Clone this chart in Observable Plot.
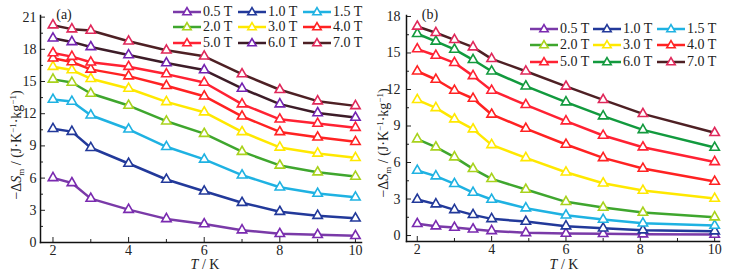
<!DOCTYPE html>
<html><head><meta charset="utf-8">
<script src="https://cdn.jsdelivr.net/npm/d3@7"></script>
<script src="https://cdn.jsdelivr.net/npm/@observablehq/plot@0.6"></script>
<style>
body{margin:0;background:#fff;}
#wrap{position:relative;width:742px;height:278px;overflow:hidden;font-family:"Liberation Serif","DejaVu Serif",serif;color:#222;}
.panel{position:absolute;top:0;}
.ylab{position:absolute;white-space:nowrap;font-size:14px;transform:translate(-50%,-50%) rotate(-90deg);}
.xlab{position:absolute;white-space:nowrap;font-size:14px;transform:translate(-50%,-50%);}
.tag{position:absolute;font-size:14px;transform:translate(-50%,-50%);}
.leg{position:absolute;display:flex;align-items:center;font-size:14px;white-space:nowrap;transform:translateY(-50%);}
.leg svg{margin-right:2px;}
sub{font-size:9px;vertical-align:-3px;}
sup{font-size:9px;vertical-align:5px;}
</style>
</head><body>
<div id="wrap"></div>
<script>
// ---------- data ----------
const fields = ["0.5 T","1.0 T","1.5 T","2.0 T","3.0 T","4.0 T","5.0 T","6.0 T","7.0 T"];

// panel (a)
const tA = [2, 2.5, 3, 4, 5, 6, 7, 8, 9, 10];
const a05 = [6.02, 5.55, 4.09, 3.06, 2.2, 1.72, 1.15, 0.81, 0.72, 0.62];
const a10 = [10.6, 10.33, 8.83, 7.36, 5.87, 4.77, 3.71, 2.87, 2.5, 2.25];
const a15 = [13.32, 13.14, 11.86, 10.55, 8.92, 7.74, 6.27, 5.15, 4.56, 4.21];
const a20 = [15.2, 14.91, 13.88, 12.76, 11.3, 10.14, 8.46, 7.18, 6.55, 6.15];
const a30 = [16.38, 16.07, 15.26, 14.35, 13.1, 12.14, 10.3, 8.86, 8.3, 7.89];
const a40 = [17.16, 16.82, 16.13, 15.5, 14.6, 13.63, 11.76, 10.3, 9.8, 9.39];
const a50 = [17.66, 17.32, 16.79, 16.38, 15.69, 14.91, 12.89, 11.48, 11.08, 10.7];
const a60 = [19.03, 18.69, 18.22, 17.47, 16.72, 16.07, 14.35, 12.89, 12.07, 11.64];
const a70 = [20.25, 19.88, 19.75, 18.75, 17.91, 17.35, 15.69, 14.23, 13.17, 12.73];

// panel (b)
const tB = [2, 2.5, 3, 3.5, 4, 4.92, 6, 7, 8.07, 10];
const b05 = [0.96, 0.77, 0.66, 0.52, 0.38, 0.22, 0.16, 0.14, 0.11, 0.08];
const b10 = [2.96, 2.58, 2.11, 1.7, 1.37, 1.15, 0.77, 0.6, 0.44, 0.36];
const b15 = [5.34, 4.88, 4.25, 3.53, 2.96, 2.25, 1.67, 1.32, 1.01, 0.82];
const b20 = [7.92, 7.26, 6.44, 5.48, 4.66, 3.78, 2.77, 2.3, 1.89, 1.51];
const b30 = [11.15, 10.49, 9.56, 8.74, 7.45, 6.38, 5.2, 4.3, 3.7, 3.04];
const b40 = [13.5, 12.82, 11.92, 11.26, 9.95, 8.79, 7.48, 6.38, 5.51, 4.44];
const b50 = [15.32, 14.79, 14.19, 13.12, 11.92, 10.74, 9.4, 8.22, 7.26, 6.05];
const b60 = [16.58, 15.95, 15.29, 14.44, 13.5, 12.27, 10.96, 9.81, 8.68, 7.23];
const b70 = [17.18, 16.66, 16.08, 15.48, 14.52, 13.5, 12.25, 11.15, 10.0, 8.44];

// colours (line, marker)
const lineA = ["#7a3aa8","#22399a","#1fb2e2","#3fa62e","#ffe800","#ff2222","#ff2233","#3d1c28","#4e2024"];
const markA = ["#7a2ab0","#22399a","#1fb2e2","#a8d21c","#ffe800","#ff2222","#ff2233","#7322b0","#e0285a"];
const lineB = ["#7a3aa8","#22399a","#1fb2e2","#3fa62e","#ffe800","#ff2222","#ff2233","#129a3e","#4e2024"];
const markB = ["#7a2ab0","#22399a","#1fb2e2","#a8d21c","#ffe800","#ff2222","#ff2233","#129a3e","#e0285a"];

const ticksA = [0, 3, 6, 9, 12, 15, 18, 21];
const ticksB = [0, 3, 6, 9, 12, 15, 18];
const ticksX = [2, 4, 6, 8, 10];
const minorX = [3, 5, 7, 9];

// ---------- build ----------
function tidy(ts, series, lines, marks) {
  const rows = [];
  series.forEach((vals, s) => vals.forEach((v, i) => rows.push({field: fields[s], T: ts[i], v, line: lines[s], mark: marks[s]})));
  return rows;
}
const rowsA = tidy(tA, [a05,a10,a15,a20,a30,a40,a50,a60,a70], lineA, markA);
const rowsB = tidy(tB, [b05,b10,b15,b20,b30,b40,b50,b60,b70], lineB, markB);

function panel(rows, opts) {
  const minorY = opts.yticks.slice(0, -1).map(d => d + 1.5).filter(d => d < opts.ydom[1]);
  return Plot.plot({
    width: 371, height: 278,
    marginLeft: opts.ml, marginRight: opts.mr, marginTop: 15, marginBottom: opts.mb,
    x: {domain: opts.xdom},
    y: {domain: opts.ydom},
    color: {type: "identity"},
    style: {fontFamily: '"Liberation Serif", serif', fontSize: "14px", background: "transparent", color: "#222"},
    marks: [
      Plot.axisX(ticksX, {tickSize: 0, tickPadding: 3, label: null, fill: "#222"}),
      Plot.axisX(ticksX, {tickSize: -5, fill: "none", label: null}),
      Plot.axisX(minorX, {tickSize: -3, fill: "none", label: null}),
      Plot.axisY(opts.yticks, {tickSize: 0, tickPadding: opts.yp, label: null, fill: "#222"}),
      Plot.axisY(opts.yticks, {tickSize: -5, fill: "none", label: null}),
      Plot.axisY(minorY, {tickSize: -3, fill: "none", label: null}),
      Plot.frame({anchor: "left", stroke: "#111", strokeWidth: 1.5}),
      Plot.frame({anchor: "bottom", stroke: "#111", strokeWidth: 1.5}),
      Plot.line(rows, {x: "T", y: "v", z: "field", stroke: "line", strokeWidth: 2.5}),
      Plot.dot(rows, {x: "T", y: "v", symbol: "triangle", r: 3.5, stroke: "mark", fill: "white", strokeWidth: 1.6})
    ]
  });
}

const wrap = document.getElementById("wrap");
const pa = panel(rowsA, {ml: 40, mr: 10, mb: 36, xdom: [1.67, 10.16], ydom: [0, 21.15], yticks: ticksA, yp: 4});
pa.classList.add("panel"); pa.style.left = "0px";
wrap.appendChild(pa);
const pb = panel(rowsB, {ml: 35, mr: 23, mb: 37, xdom: [1.71, 10.13], ydom: [-0.49, 18.08], yticks: ticksB, yp: 6});
pb.classList.add("panel"); pb.style.left = "371px";
wrap.appendChild(pb);

// labels
const ylabHTML = '&minus;&Delta;<i>S</i><sub>m</sub> / (J&middot;K<sup>&minus;1</sup>&middot;kg<sup>&minus;1</sup>)';
const xlabHTML = '<i>T</i> / K';
function add(cls, html, x, y) {
  const d = document.createElement("div");
  d.className = cls; d.innerHTML = html;
  d.style.left = x + "px"; d.style.top = y + "px";
  wrap.appendChild(d);
}
add("ylab", ylabHTML, 17, 145);
add("ylab", ylabHTML, 384, 143);
add("xlab", xlabHTML, 205, 265);
add("xlab", xlabHTML, 564, 265);
add("tag", "(a)", 64, 15);
add("tag", "(b)", 430, 15);

// legends
function legend(lines, marks, cols, rowsY) {
  fields.forEach((f, i) => {
    const c = i % 3, r = Math.floor(i / 3);
    const d = document.createElement("div");
    d.className = "leg";
    d.style.left = cols[c] + "px"; d.style.top = rowsY[r] + "px";
    d.innerHTML = `<svg width="28" height="12"><line x1="0" y1="6" x2="28" y2="6" stroke="${lines[i]}" stroke-width="2.5"/>` +
      `<polygon points="14,1.6 18.2,8.8 9.8,8.8" fill="white" stroke="${marks[i]}" stroke-width="1.6"/></svg><span>${f}</span>`;
    wrap.appendChild(d);
  });
}
legend(lineA, markA, [173, 238, 303], [11.5, 27, 43]);
legend(lineB, markB, [530, 593, 657], [28.5, 45, 61.5]);
</script>
</body></html>
